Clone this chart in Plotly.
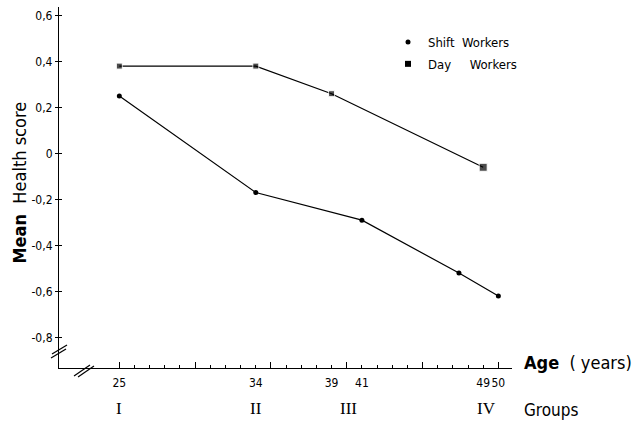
import plotly.graph_objects as go

# ---- data ----
shift_age = [25, 34, 41, 47.4, 50]
shift_score = [0.25, -0.17, -0.29, -0.52, -0.62]
day_age = [25, 34, 39, 49]
day_score = [0.38, 0.38, 0.26, -0.06]

x_tick_vals = [25, 34, 39, 41, 49, 50]
x_tick_text = ["25", "34", "39", "41", "49", "50"]
y_tick_vals = [0.6, 0.4, 0.2, 0.0, -0.2, -0.4, -0.6, -0.8]
y_tick_text = ["0,6", "0,4", "0,2", "0", "-0,2", "-0,4", "-0,6", "-0,8"]
major_ticks = [25, 30, 35, 40, 45, 50]
minor_ticks = list(range(25, 51))
group_labels = ["I", "II", "III", "IV"]
group_ages = [25, 34, 40.1, 49.2]

# ---- styles ----
FONT = "DejaVu Sans Condensed, Liberation Sans Narrow, sans-serif"
SERIF = "Liberation Serif, DejaVu Serif, serif"
day_sizes = [6, 6, 6, 8]
X_RANGE = [21.02, 50.9]
Y_RANGE = [-0.933, 0.637]
L, R, T, B = 59, 124, 7, 54
W, H = 636, 422
PW, PH = W - L - R, H - T - B


def px(x):
    return (x - L) / PW


def py(y):
    return (H - B - y) / PH


fig = go.Figure()
fig.add_trace(go.Scatter(x=shift_age, y=shift_score, mode="lines+markers",
                         line=dict(color="black", width=1.2),
                         marker=dict(symbol="circle", size=5, color="black"),
                         showlegend=False, hoverinfo="skip"))
fig.add_trace(go.Scatter(x=day_age, y=day_score, mode="lines+markers",
                         line=dict(color="black", width=1.2),
                         marker=dict(symbol="square", size=day_sizes, color="black"),
                         showlegend=False, hoverinfo="skip"))
# legend entries (marker only)
fig.add_trace(go.Scatter(x=[None], y=[None], mode="markers", name="Shift\u00a0\u00a0Workers",
                         marker=dict(symbol="circle", size=5, color="black"),
                         legendgroup="a"))
fig.add_trace(go.Scatter(x=[None], y=[None], mode="markers", name="Day\u00a0\u00a0\u00a0\u00a0\u00a0Workers",
                         marker=dict(symbol="square", size=6, color="black"),
                         legendgroup="b"))
# carrier for overlay tick axes
fig.add_trace(go.Scatter(x=[None], y=[None], xaxis="x2", yaxis="y2",
                         showlegend=False, hoverinfo="skip"))

fig.update_layout(
    width=W, height=H,
    margin=dict(l=L, r=R, t=T, b=B, autoexpand=False),
    paper_bgcolor="white", plot_bgcolor="white",
    font=dict(family=FONT, color="black", size=12),
    xaxis=dict(range=X_RANGE, showgrid=False, zeroline=False, automargin=False,
               showline=True, linecolor="black", linewidth=1.2,
               tickmode="array", tickvals=x_tick_vals, ticktext=x_tick_text,
               ticks="", ticklabelstandoff=3, tickangle=0,
               tickfont=dict(family=FONT, size=12)),
    yaxis=dict(range=Y_RANGE, showgrid=False, zeroline=False, automargin=False,
               showline=True, linecolor="black", linewidth=1.2,
               tickmode="array", tickvals=y_tick_vals, ticktext=y_tick_text,
               ticks="outside", ticklen=3, tickwidth=1, tickcolor="black",
               tickfont=dict(family=FONT, size=12)),
    xaxis2=dict(range=X_RANGE, overlaying="x", side="bottom", showgrid=False,
                zeroline=False, showline=False, showticklabels=False,
                tickmode="array", tickvals=major_ticks, ticks="inside",
                ticklen=6, tickwidth=1, tickcolor="black",
                minor=dict(tickmode="array", tickvals=minor_ticks, ticks="inside",
                           ticklen=3, tickwidth=1, tickcolor="black", showgrid=False)),
    yaxis2=dict(range=Y_RANGE, overlaying="y", side="left", showgrid=False,
                zeroline=False, showline=False, showticklabels=False,
                tickmode="array", tickvals=y_tick_vals, ticks="inside",
                ticklen=3, tickwidth=1, tickcolor="black"),
    legend=dict(x=px(388), y=py(27), xanchor="left", yanchor="top",
                bgcolor="rgba(0,0,0,0)", tracegroupgap=2,
                font=dict(family=FONT, size=13)),
)

annotations = [
    dict(text="<b>Mean</b>\u00a0\u00a0Health score", textangle=-90,
         xref="paper", yref="paper", x=px(18.5), y=py(183),
         xanchor="center", yanchor="middle", showarrow=False,
         font=dict(family=FONT, size=18)),
    dict(text="<b>Age</b>\u00a0\u00a0(\u00a0years)", xref="paper", yref="paper",
         x=px(522), y=py(362), xanchor="left", yanchor="middle",
         showarrow=False, font=dict(family=FONT, size=18)),
    dict(text="Groups", xref="paper", yref="paper",
         x=px(522), y=py(410), xanchor="left", yanchor="middle",
         showarrow=False, font=dict(family=FONT, size=17)),
]
for lab, age in zip(group_labels, group_ages):
    annotations.append(dict(text=lab, xref="x", yref="paper", x=age, y=py(408),
                            xanchor="center", yanchor="middle", showarrow=False,
                            font=dict(family=SERIF, size=17)))
fig.update_layout(annotations=annotations)

# axis break marks (decoration)
breaks = [
    ((51, 358), (66, 349)), ((52, 354), (67, 345)),
    ((74, 376), (90, 365)), ((78, 377), (94, 366)),
]
for (x0, y0), (x1, y1) in breaks:
    fig.add_shape(type="line", xref="paper", yref="paper",
                  x0=px(x0), y0=py(y0), x1=px(x1), y1=py(y1),
                  line=dict(color="black", width=1.2))

fig.write_html("out.html", config={"displayModeBar": False},
               post_script="document.body.style.margin='0px';document.body.style.overflow='hidden';")
